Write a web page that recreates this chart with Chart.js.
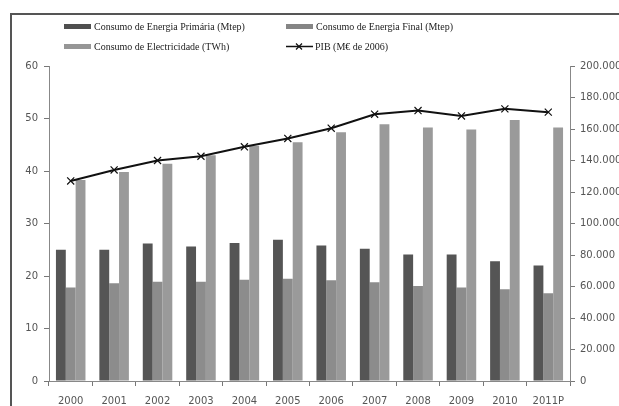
<!DOCTYPE html>
<html>
<head>
<meta charset="utf-8">
<script src="https://cdn.jsdelivr.net/npm/chart.js@4"></script>
<style>
  body { margin: 0; width: 619px; height: 406px; overflow: hidden; background: #fff; }
  #frame { position: absolute; left: 10px; top: 13px; width: 700px; height: 500px; border: 2px solid #555; }
  #wrap { position: absolute; left: 0; top: 0; width: 619px; height: 406px; }
  .leg { position: absolute; font: 10px "Liberation Serif", serif; color: #222; white-space: nowrap; }
  .leg i { display: inline-block; width: 27px; height: 5px; vertical-align: middle; margin-right: 3px; position: relative; top: -1px; }
  .leg svg { vertical-align: middle; margin-right: 2px; position: relative; top: -1px; }
</style>
</head>
<body>
<div id="frame"></div>
<div id="wrap"><canvas id="chart" width="619" height="406"></canvas></div>
<div class="leg" style="left:64px;top:21px"><i style="background:#4f4f4f"></i>Consumo de Energia Primária (Mtep)</div>
<div class="leg" style="left:286px;top:21px"><i style="background:#858585"></i>Consumo de Energia Final (Mtep)</div>
<div class="leg" style="left:64px;top:41px"><i style="background:#969696"></i>Consumo de Electricidade (TWh)</div>
<div class="leg" style="left:286px;top:41px"><svg width="27" height="9"><line x1="0" y1="4.5" x2="27" y2="4.5" stroke="#111" stroke-width="1.5"/><path d="M10 1.5 L16 7.5 M16 1.5 L10 7.5" stroke="#111" stroke-width="1.2"/></svg>PIB (M€ de 2006)</div>
<script>
// Dados
const anos = ['2000', '2001', '2002', '2003', '2004', '2005', '2006', '2007', '2008', '2009', '2010', '2011P'];
const energiaPrimaria = [25.0, 25.0, 26.2, 25.6, 26.3, 26.9, 25.8, 25.2, 24.1, 24.1, 22.8, 22.0];
const energiaFinal = [17.8, 18.6, 18.9, 18.9, 19.3, 19.5, 19.2, 18.8, 18.1, 17.8, 17.5, 16.7];
const electricidade = [38.3, 39.8, 41.4, 43.0, 44.8, 45.5, 47.4, 48.9, 48.3, 47.9, 49.7, 48.3];
const pib = [127000, 134000, 140000, 142700, 148700, 154000, 160500, 169400, 171700, 168300, 172800, 170700];

const tickFont = { family: 'DejaVu Sans', size: 10 };

// gradiente horizontal leve nas barras, como no original
function barGradient(ctx, base, edge) {
    const el = ctx.element;
    if (!el || el.width === undefined) return base;
    const x0 = el.x - el.width / 2, x1 = el.x + el.width / 2;
    const g = ctx.chart.ctx.createLinearGradient(x0, 0, x1, 0);
    g.addColorStop(0, edge);
    g.addColorStop(0.5, base);
    g.addColorStop(1, edge);
    return g;
}

new Chart(document.getElementById('chart'), {
    type: 'bar',
    data: {
        labels: anos,
        datasets: [
            {
                type: 'line',
                label: 'PIB (M€ de 2006)',
                data: pib,
                yAxisID: 'y2',
                borderColor: '#111',
                backgroundColor: '#111',
                borderWidth: 2,
                pointStyle: 'crossRot',
                pointRadius: 5,
                pointBorderWidth: 1.2,
                tension: 0,
                order: 0
            },
            { label: 'Consumo de Energia Primária (Mtep)', data: energiaPrimaria, backgroundColor: c => barGradient(c, '#555', '#3c3c3c'), order: 1 },
            { label: 'Consumo de Energia Final (Mtep)', data: energiaFinal, backgroundColor: c => barGradient(c, '#8c8c8c', '#767676'), order: 1 },
            { label: 'Consumo de Electricidade (TWh)', data: electricidade, backgroundColor: c => barGradient(c, '#9a9a9a', '#848484'), order: 1 }
        ]
    },
    options: {
        responsive: false,
        animation: false,
        categoryPercentage: 0.68,
        barPercentage: 1.0,
        layout: { padding: { left: 10, top: 66, right: 0, bottom: 0 } },
        plugins: { legend: { display: false }, tooltip: { enabled: false } },
        scales: {
            x: {
                afterFit: s => { s.height = 25; },
                grid: { drawOnChartArea: false, tickLength: 5, color: '#777' },
                border: { color: '#888' },
                ticks: { font: tickFont, color: '#555', padding: 9, maxRotation: 0, autoSkip: false }
            },
            y: {
                min: 0, max: 60,
                afterFit: s => { s.width = 39; },
                grid: { drawOnChartArea: false, tickLength: 5, color: '#777' },
                border: { color: '#888' },
                ticks: { stepSize: 10, font: tickFont, color: '#555', padding: 6 }
            },
            y2: {
                position: 'right',
                min: 0, max: 200000,
                afterFit: s => { s.width = 49; },
                grid: { drawOnChartArea: false, tickLength: 5, color: '#777' },
                border: { color: '#888' },
                ticks: {
                    stepSize: 20000, font: tickFont, color: '#555', padding: 5,
                    callback: v => v === 0 ? '0' : v.toLocaleString('de-DE', { minimumFractionDigits: 0 }).replace(/,/g, '.')
                }
            }
        }
    }
});
</script>
</body>
</html>
